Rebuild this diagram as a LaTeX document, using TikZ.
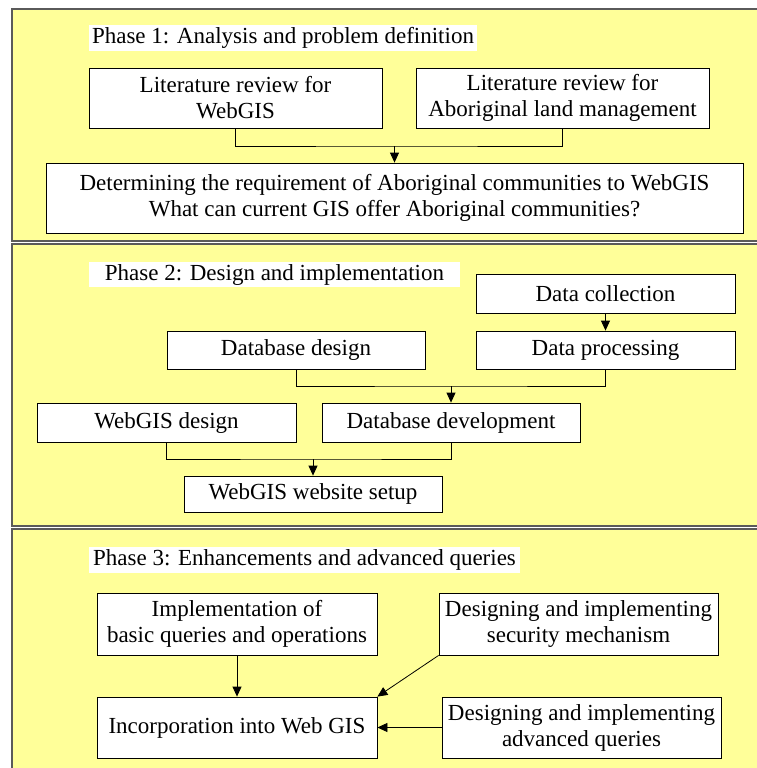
\documentclass[tikz,border=0pt]{standalone}
\usepackage{fontspec}
\setmainfont{Liberation Serif}
\usetikzlibrary{arrows.meta}
\definecolor{panelyellow}{RGB}{255,255,153}
\definecolor{panelline}{RGB}{90,90,90}
\tikzset{
  box/.style={draw, fill=white, line width=.8pt, inner sep=0pt, align=center,
    font=\fontsize{23}{26}\selectfont},
  phasetitle/.style={fill=white, inner sep=0pt, font=\fontsize{23}{26}\selectfont}
}
\begin{document}
\begin{tikzpicture}[>={Triangle[length=10pt,width=9pt]}, x=1pt, y=-1pt, line width=.8pt]
\useasboundingbox (0,0) rectangle (757,768);
\fill[white] (0,0) rectangle (757,768);
% the three phase panels
\foreach \t/\b in {9/241,244/526,529/775}
{
    \fill[panelyellow] (12,\t) rectangle (757,\b);
    \draw[panelline, line width=1.2pt] (757,\t) -- (12,\t) -- (12,\b) -- (757,\b);
}

% Phase 1
\node[phasetitle, minimum width=388pt, minimum height=26pt] (title1) at (283,38) {Phase 1: Analysis and problem definition};
\node[box, minimum width=293pt, minimum height=60pt] (lita) at (235.5,98) {Literature review for\\WebGIS};
\node[box, minimum width=293pt, minimum height=60pt] (litb) at (562.5,98) {Literature review for\\Aboriginal land management};
\node[box, minimum width=697pt, minimum height=70pt] (det) at (394.5,198) {Determining the requirement of Aboriginal communities to WebGIS\\What can current GIS offer Aboriginal communities?};
\coordinate (j1) at (394.5,146);
\draw (lita.south) |- (j1) -| (litb.south);
\draw[->] (j1) -- (det.north);

% Phase 2
\node[phasetitle, minimum width=371pt, minimum height=25pt] (title2) at (274.5,274.5) {Phase 2: Design and implementation};
\node[box, minimum width=259pt, minimum height=39pt] (dcoll) at (605.5,293.5) {Data collection};
\node[box, minimum width=259pt, minimum height=38pt] (dproc) at (605.5,350) {Data processing};
\node[box, minimum width=258pt, minimum height=38pt] (dbdes) at (296,350) {Database design};
\node[box, minimum width=259pt, minimum height=39pt] (webdes) at (166.5,422.5) {WebGIS design};
\node[box, minimum width=258pt, minimum height=39pt] (dbdev) at (451,422.5) {Database development};
\node[box, minimum width=258pt, minimum height=36pt] (setup) at (313,494) {WebGIS website setup};
\draw[->] (dcoll) -- (dproc);
\coordinate (j2) at (451,386);
\draw (dbdes.south) |- (j2) -| (dproc.south);
\draw[->] (j2) -- (dbdev.north);
\coordinate (j3) at (313,459);
\draw (webdes.south) |- (j3) -| (dbdev.south);
\draw[->] (j3) -- (setup.north);

% Phase 3
\node[phasetitle, minimum width=431pt, minimum height=26pt] (title3) at (304.5,560) {Phase 3: Enhancements and advanced queries};
\node[box, minimum width=280pt, minimum height=62pt] (impl) at (237,624) {Implementation of\\basic queries and operations};
\node[box, minimum width=279pt, minimum height=62pt] (secur) at (578.5,624) {Designing and implementing\\security mechanism};
\node[box, minimum width=280pt, minimum height=61pt] (incorp) at (237,727.5) {Incorporation into Web GIS};
\node[box, minimum width=279pt, minimum height=61pt] (advq) at (581.5,727.5) {Designing and implementing\\advanced queries};
\draw[->] (impl) -- (incorp);
\draw[->] (secur.south west) -- (incorp.north east);
\draw[->] (advq) -- (incorp);

\end{tikzpicture}
\end{document}
